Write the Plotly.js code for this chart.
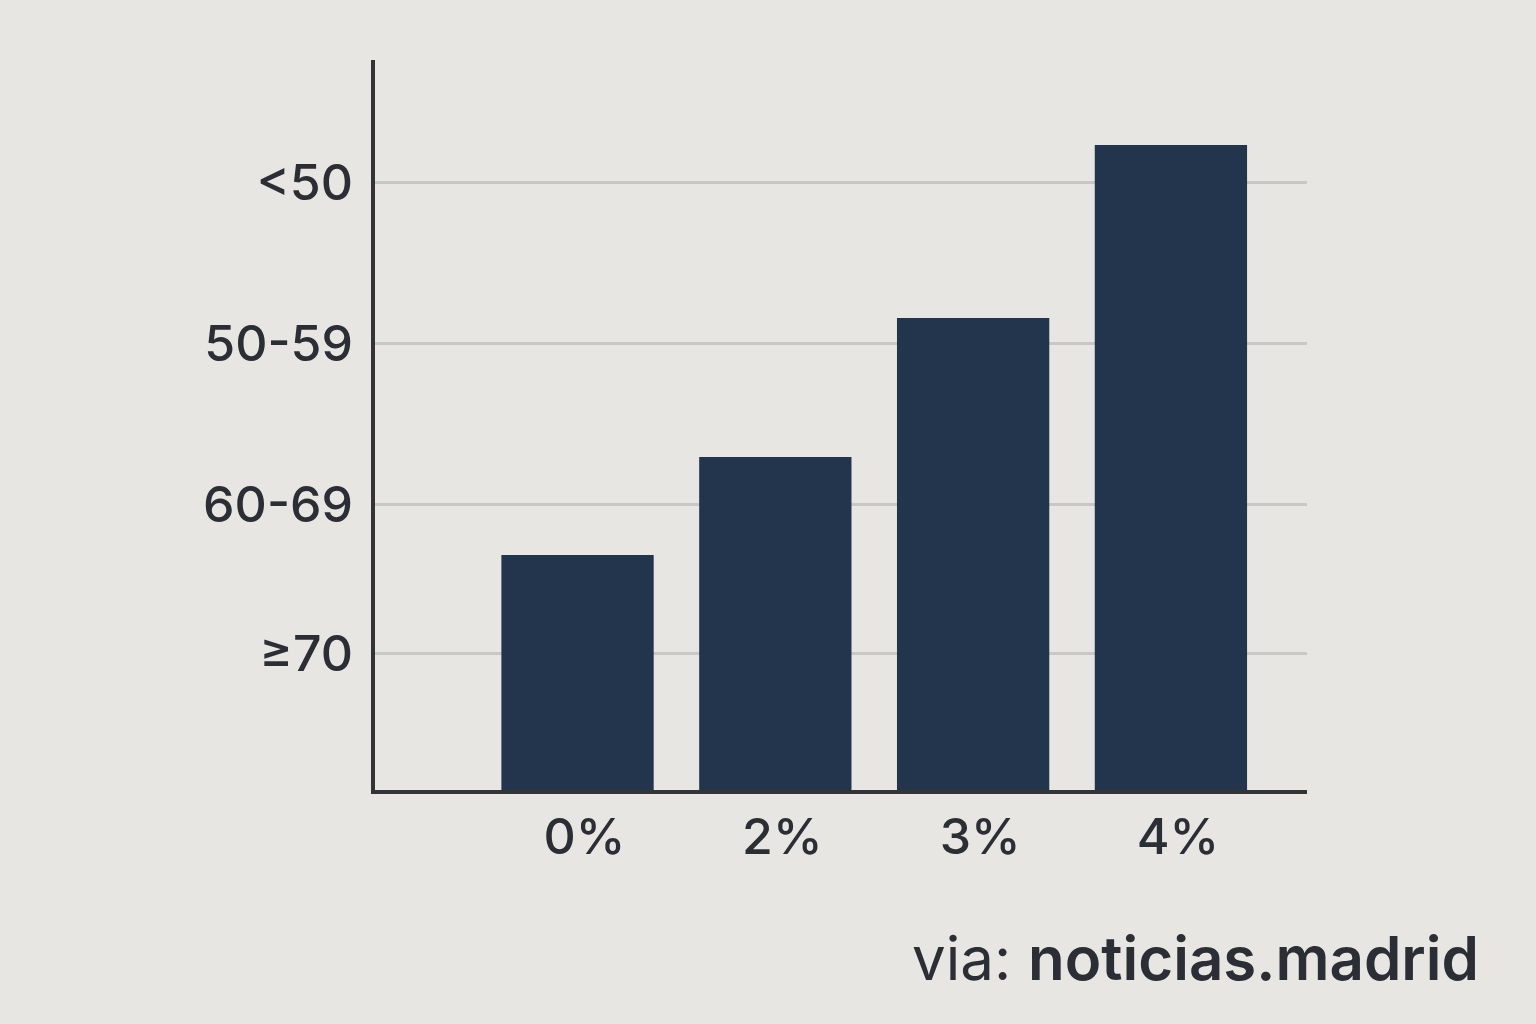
<!DOCTYPE html>
<html>
<head>
<meta charset="utf-8">
<script src="https://cdn.plot.ly/plotly-3.0.1.min.js"></script>
<style>
html,body{margin:0;padding:0;background:#e7e6e2;}
#chart{width:1536px;height:1024px;}
</style>
</head>
<body>
<div id="chart"></div>
<script>
// Data (arbitrary vertical units, 1 unit ≈ 100 px)
const categories = ["0%", "2%", "3%", "4%"];
const barValues = [2.35, 3.33, 4.72, 6.45];
const yTickValues = [1.37, 2.86, 4.47, 6.08];
const yTickLabels = ["≥70", "60-69", "50-59", "<50"];
const sourceText = "via: noticias.madrid";

const textColor = "#2b2e35";
const fontFamily = "Inter, 'Noto Sans', sans-serif";

const trace = {
  type: "bar",
  x: categories,
  y: barValues,
  width: 0.77,
  marker: {color: "#22354d", line: {width: 0}},
  hoverinfo: "skip"
};

const layout = {
  width: 1536,
  height: 1024,
  paper_bgcolor: "#e7e6e2",
  plot_bgcolor: "#e7e6e2",
  margin: {l: 375, r: 229, t: 60, b: 234, pad: 0},
  showlegend: false,
  font: {family: fontFamily, color: textColor},
  xaxis: {
    type: "category",
    range: [-1.024, 3.688],
    showgrid: false,
    zeroline: false,
    showline: true,
    linecolor: "#333438",
    linewidth: 4,
    ticks: "",
    ticklabelstandoff: 0,
    ticklabelshift: 7,
    tickfont: {family: fontFamily, size: 50, color: textColor, weight: 500},
    fixedrange: true
  },
  yaxis: {
    range: [0, 7.30],
    tickmode: "array",
    tickvals: yTickValues,
    ticktext: yTickLabels,
    showgrid: true,
    gridcolor: "#c8c8c4",
    gridwidth: 3,
    zeroline: false,
    showline: true,
    linecolor: "#333438",
    linewidth: 4,
    ticks: "",
    ticklabelstandoff: 8,
    tickfont: {family: fontFamily, size: 50, color: textColor, weight: 500},
    fixedrange: true
  },
  annotations: [{
    xref: "paper", yref: "paper",
    x: (1481-375)/(1536-375-229),
    y: -(996-790)/(1024-60-234),
    xanchor: "right", yanchor: "bottom",
    showarrow: false,
    text: '<span style="font-weight:400">via: </span><span style="font-weight:600">noticias.madrid</span>',
    font: {family: fontFamily, size: 60, color: textColor}
  }]
};

Plotly.newPlot("chart", [trace], layout, {displayModeBar: false, staticPlot: true});
</script>
</body>
</html>
